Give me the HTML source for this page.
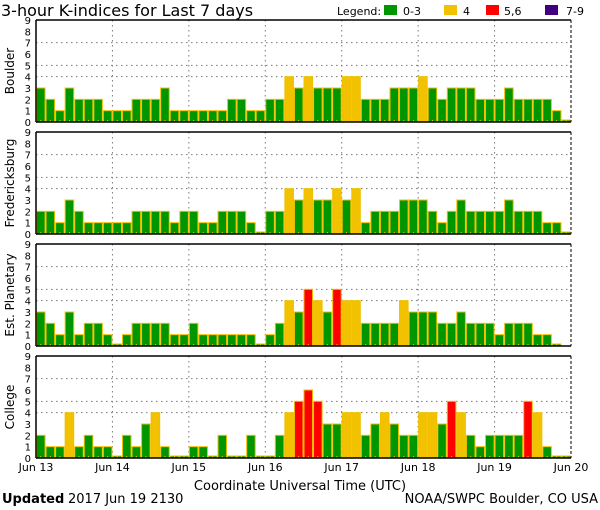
<!DOCTYPE html>
<html><head><meta charset="utf-8"><style>
body{margin:0;background:#fff;width:600px;height:510px;overflow:hidden}
svg{display:block}
text{font-family:"DejaVu Sans","Liberation Sans",sans-serif}
</style></head><body>
<svg id="s" width="600" height="510" xmlns="http://www.w3.org/2000/svg">
<text x="1" y="16" font-size="16">3-hour K-indices for Last 7 days</text>
<text x="337" y="15" font-size="11">Legend:</text>
<rect x="384" y="5" width="13" height="10" fill="#009600"/>
<text x="403" y="15" font-size="11">0-3</text>
<rect x="444" y="5" width="13" height="10" fill="#f2c200"/>
<text x="463" y="15" font-size="11">4</text>
<rect x="486" y="5" width="13" height="10" fill="#ff0000"/>
<text x="504" y="15" font-size="11">5,6</text>
<rect x="545" y="5" width="13" height="10" fill="#400080"/>
<text x="566" y="15" font-size="11">7-9</text>
<text x="300" y="490" font-size="13" text-anchor="middle">Coordinate Universal Time (UTC)</text>
<text x="2" y="503" font-size="13" font-family="Liberation Serif,serif" font-weight="bold">Updated</text>
<text x="68" y="503" font-size="13">2017 Jun 19 2130</text>
<text x="598" y="503" font-size="13" text-anchor="end">NOAA/SWPC Boulder, CO USA</text>
</svg>
<script>
var s=document.getElementById('s'),NS='http://www.w3.org/2000/svg';
function el(t,a,txt){var e=document.createElementNS(NS,t);for(var k in a)e.setAttribute(k,a[k]);if(txt!=null)e.textContent=txt;s.appendChild(e);return e;}
var data=[
["Boulder",[3,2,1,3,2,2,2,1, 1,1,2,2,2,3,1,1, 1,1,1,1,2,2,1,1, 2,2,4,3,4,3,3,3, 4,4,2,2,2,3,3,3, 4,3,2,3,3,3,2,2, 2,3,2,2,2,2,1,0]],
["Fredericksburg",[2,2,1,3,2,1,1,1, 1,1,2,2,2,2,1,2, 2,1,1,2,2,2,1,0, 2,2,4,3,4,3,3,4, 3,4,1,2,2,2,3,3, 3,2,1,2,3,2,2,2, 2,3,2,2,2,1,1,0]],
["Est. Planetary",[3,2,1,3,1,2,2,1, 0,1,2,2,2,2,1,1, 2,1,1,1,1,1,1,0, 1,2,4,3,5,4,3,5, 4,4,2,2,2,2,4,3, 3,3,2,2,3,2,2,2, 1,2,2,2,1,1,0,-1]],
["College",[2,1,1,4,1,2,1,1, 0,2,1,3,4,1,0,0, 1,1,0,2,0,0,2,0, 0,2,4,5,6,5,3,3, 4,4,2,3,4,3,2,2, 4,4,3,5,4,2,1,2, 2,2,2,5,4,1,0,0]]];
var tops=[20,132,244,356],L=36,R=571,H=102,u=H/9,bw=(R-L)/56,dw=(R-L)/7;
data.forEach(function(d,p){
 var t=tops[p],b=t+H;
 [4,5,7].forEach(function(v){el('line',{x1:L,x2:R,y1:b-v*u,y2:b-v*u,stroke:'#777','stroke-dasharray':'1.5,3.5'});});
 for(var k=1;k<7;k++){var x=L+k*dw;el('line',{x1:x,x2:x,y1:t,y2:b,stroke:'#777','stroke-dasharray':'1.5,3.5'});}
 d[1].forEach(function(v,i){
  if(v<0)return;
  var x=L+i*bw,h=v==0?2:v*u,c=v<=3?'#009600':v==4?'#f2c200':v<=6?'#ff0000':'#400080';
  el('rect',{x:x+0.5,y:b-h,width:bw-1,height:h,fill:c,stroke:'#f0c000','stroke-width':1});
  el('line',{x1:x+bw/2,x2:x+bw/2,y1:b-2,y2:b,stroke:'#f0c000'});
 });
 el('line',{x1:L,x2:R,y1:t,y2:t,stroke:'#000','stroke-width':1.5});
 el('line',{x1:L,x2:R,y1:b,y2:b,stroke:'#000','stroke-width':1.5});
 el('line',{x1:L,x2:L,y1:t,y2:b,stroke:'#000','stroke-width':1.5});
 el('line',{x1:R,x2:R,y1:t,y2:b,stroke:'#000','stroke-width':1,'stroke-dasharray':'3,2'});
 for(var v=0;v<=9;v++)el('text',{x:31,y:b-v*u+4,'font-size':10,'text-anchor':'end'},v);
 var cy=t+H/2;
 el('text',{x:0,y:0,'font-size':12,'text-anchor':'middle',transform:'translate(14,'+cy+') rotate(-90)'},d[0]);
});
for(var k=0;k<=7;k++)el('text',{x:L+k*dw,y:471,'font-size':11,'text-anchor':'middle'},'Jun '+(13+k));
</script>
</body></html>
